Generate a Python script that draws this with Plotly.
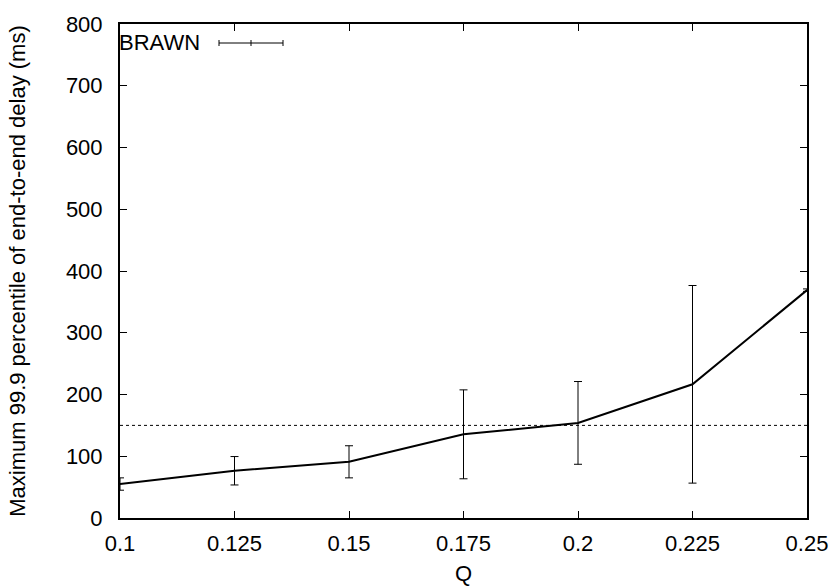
import plotly.graph_objects as go

q = [0.1, 0.125, 0.15, 0.175, 0.2, 0.225, 0.25]
delay = [55, 76.5, 91, 135.5, 154, 216.5, 369]
err = [10, 23, 26, 72, 67, 160, 2]
threshold_x = [0.1, 0.25]
threshold_y = [150, 150]
x_ticks = [0.1, 0.125, 0.15, 0.175, 0.2, 0.225, 0.25]
x_tick_labels = ["0.1", "0.125", "0.15", "0.175", "0.2", "0.225", "0.25"]
y_ticks = [0, 100, 200, 300, 400, 500, 600, 700, 800]

FONT = "Liberation Sans, Arial, sans-serif"
FS = 22
L, R, T, B = 120, 28, 24, 68
W, H = 835, 586
pw, ph = W - L - R, H - T - B

fig = go.Figure()
fig.add_trace(go.Scatter(
    x=threshold_x, y=threshold_y, mode="lines",
    line=dict(color="black", width=1, dash="dot"),
    showlegend=False, hoverinfo="skip"))
fig.add_trace(go.Scatter(
    x=q, y=delay, mode="lines", name="BRAWN",
    line=dict(color="black", width=2),
    error_y=dict(type="data", array=err, visible=True,
                 color="black", thickness=1, width=4),
    showlegend=False))

def px_x(p):
    return (p - L) / pw

def px_y(p):
    return (H - B - p) / ph

# legend (gnuplot style: text, then sample)
ly = px_y(43)
fig.add_annotation(x=px_x(117), y=ly, xref="paper", yref="paper",
                   text="BRAWN", showarrow=False, xanchor="left",
                   yanchor="middle", font=dict(family=FONT, size=FS, color="black"))
fig.add_shape(type="line", xref="paper", yref="paper",
              x0=px_x(219), x1=px_x(283), y0=ly, y1=ly,
              line=dict(color="black", width=1))
for xx in (219, 251, 283):
    fig.add_shape(type="line", xref="paper", yref="paper",
                  x0=px_x(xx), x1=px_x(xx), y0=px_y(40), y1=px_y(46),
                  line=dict(color="black", width=1))

axis_common = dict(showgrid=False, zeroline=False, showline=True,
                   linecolor="black", linewidth=2, mirror="allticks",
                   ticks="inside", ticklen=7, tickwidth=1, tickcolor="black",
                   tickfont=dict(family=FONT, size=FS, color="black"))

fig.update_xaxes(range=[0.1, 0.25], tickvals=x_ticks, ticktext=x_tick_labels,
                 ticklabelstandoff=5,
                 title=dict(text="Q", font=dict(family=FONT, size=FS, color="black"), standoff=16),
                 **axis_common)
fig.update_yaxes(range=[0, 800], tickvals=y_ticks, ticklabelstandoff=11,
                 title=dict(text="Maximum 99.9 percentile of end-to-end delay (ms)",
                            font=dict(family=FONT, size=FS, color="black"), standoff=34),
                 **axis_common)

fig.update_layout(width=W, height=H, margin=dict(l=L, r=R, t=T, b=B, autoexpand=False),
                  plot_bgcolor="white", paper_bgcolor="white",
                  font=dict(family=FONT, size=FS, color="black"))

fig.write_html("out.html")
